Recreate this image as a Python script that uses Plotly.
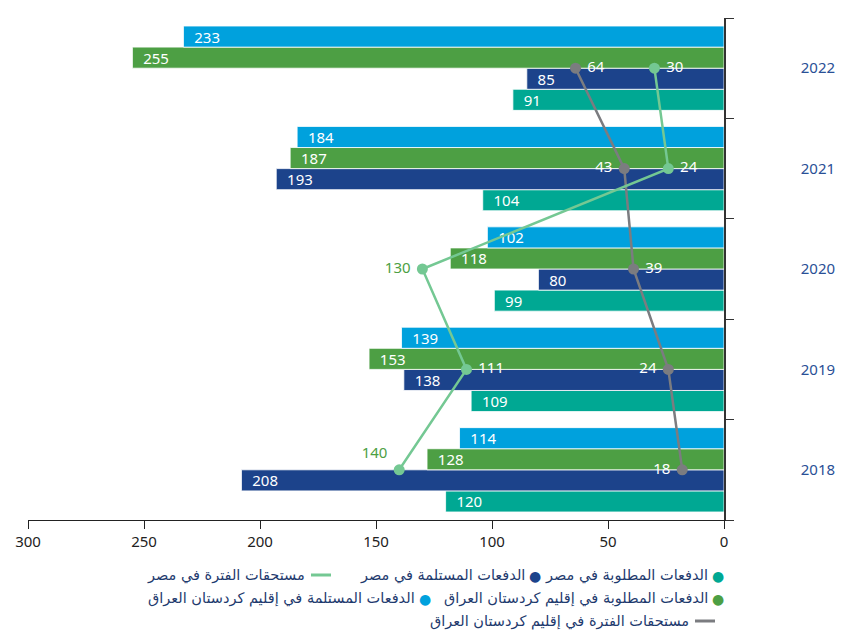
import plotly.graph_objects as go

years = ["2018", "2019", "2020", "2021", "2022"]
egypt_required = [120, 109, 99, 104, 91]
egypt_received = [208, 138, 80, 193, 85]
kurd_required = [128, 153, 118, 187, 255]
kurd_received = [114, 139, 102, 184, 233]
egypt_period = [140, 111, 130, 24, 30]
kurd_period = [18, 24, 39, 43, 64]
x_ticks = [0, 50, 100, 150, 200, 250, 300]

names = {
    "egypt_required": "الدفعات المطلوبة في مصر",
    "egypt_received": "الدفعات المستلمة في مصر",
    "egypt_period": "مستحقات الفترة في مصر",
    "kurd_required": "الدفعات المطلوبة في إقليم كردستان العراق",
    "kurd_received": "الدفعات المستلمة في إقليم كردستان العراق",
    "kurd_period": "مستحقات الفترة في إقليم كردستان العراق",
}

C_TEAL = "#00A893"
C_DBLUE = "#1C438B"
C_GREEN = "#4D9F44"
C_LBLUE = "#00A1DD"
C_LGREEN = "#74C893"
C_GRAY = "#7B7C80"

FONT = "Noto Sans, DejaVu Sans, sans-serif"
AR_FONT = "DejaVu Sans, Noto Sans, sans-serif"

fig = go.Figure()

def add_bar(vals, color, key):
    fig.add_trace(go.Bar(
        y=years, x=vals, orientation="h", name=names[key],
        marker=dict(color=color, line=dict(color="white", width=0.8)),
        text=["\u00a0\u00a0" + str(v) for v in vals],
        textposition="inside", insidetextanchor="end",
        textfont=dict(color="white", size=15, family=FONT),
        constraintext="none", cliponaxis=False,
    ))

add_bar(egypt_required, C_TEAL, "egypt_required")
add_bar(egypt_received, C_DBLUE, "egypt_received")
add_bar(kurd_required, C_GREEN, "kurd_required")
add_bar(kurd_received, C_LBLUE, "kurd_received")

fig.add_trace(go.Scatter(
    y=years, x=kurd_period, mode="lines+markers+text", name=names["kurd_period"],
    line=dict(color=C_GRAY, width=2.5), marker=dict(size=11, color=C_GRAY),
    text=["\u00a0" + str(v) + "\u00a0" for v in kurd_period],
    textposition=["middle left", "middle left", "middle right", "middle left", "middle right"],
    textfont=dict(color="white", size=15, family=FONT), cliponaxis=False,
))
fig.add_trace(go.Scatter(
    y=years, x=egypt_period, mode="lines+markers+text", name=names["egypt_period"],
    line=dict(color=C_LGREEN, width=2.5), marker=dict(size=11, color=C_LGREEN),
    text=["\u00a0" + str(v) + "\u00a0" for v in egypt_period],
    textposition=["top left", "middle right", "middle left", "middle right", "middle right"],
    textfont=dict(color=["#4D9F44", "white", "#4D9F44", "white", "white"], size=15, family=FONT),
    cliponaxis=False,
))

OFF = 8  # page body margin
W, H = 843 - OFF, 640 - OFF
L, T = 28 - OFF, 18 - OFF
pw, ph = 696, 502
R, B = W - L - pw, H - T - ph

def px(xp):
    return (xp - OFF - L) / pw

def py(yp):
    return (T + ph - (yp - OFF)) / ph

annotations = []
shapes = []

def legend_item(x_marker, y_pix, color, key, kind):
    if kind == "dot":
        annotations.append(dict(x=px(x_marker), y=py(y_pix), xref="paper", yref="paper",
                                text="●", showarrow=False, xanchor="center", yanchor="middle",
                                font=dict(color=color, size=14, family=FONT)))
        tx = x_marker - 8
    else:
        shapes.append(dict(type="line", xref="paper", yref="paper",
                           x0=px(x_marker - 10), x1=px(x_marker + 10), y0=py(y_pix), y1=py(y_pix),
                           line=dict(color=color, width=3)))
        tx = x_marker - 14
    annotations.append(dict(x=px(tx), y=py(y_pix), xref="paper", yref="paper",
                            text=names[key], showarrow=False, xanchor="right", yanchor="middle",
                            font=dict(color="#1E3A6E", size=14.5, family=AR_FONT)))

legend_item(718, 575, C_TEAL, "egypt_required", "dot")
legend_item(535, 575, C_DBLUE, "egypt_received", "dot")
legend_item(321, 575, C_LGREEN, "egypt_period", "line")
legend_item(718, 598, C_GREEN, "kurd_required", "dot")
legend_item(425, 598, C_LBLUE, "kurd_received", "dot")
legend_item(705, 621, C_GRAY, "kurd_period", "line")

fig.update_layout(
    width=W, height=H,
    margin=dict(l=L, r=R, t=T, b=B),
    paper_bgcolor="white", plot_bgcolor="white",
    barmode="group", bargap=0.16, bargroupgap=0,
    showlegend=False,
    annotations=annotations, shapes=shapes,
    font=dict(family=FONT),
)
fig.update_xaxes(
    range=[300, 0], tickvals=x_ticks, ticktext=[str(v) for v in x_ticks],
    showgrid=False, zeroline=False, showline=True, linecolor="#222222", linewidth=1,
    ticks="outside", ticklen=8, tickcolor="#222222", automargin=False,
    tickfont=dict(color="#222222", size=15, family=FONT),
)
fig.update_yaxes(
    type="category", categoryorder="array", categoryarray=years,
    side="right", showgrid=False, zeroline=False, showline=True,
    linecolor="#333333", linewidth=1.5, automargin=False,
    ticks="outside", ticklen=8, tickcolor="#333333", tickson="boundaries",
    ticklabelstandoff=72,
    tickfont=dict(color="#2A5096", size=15, family=FONT),
)

fig.write_html("out.html")
